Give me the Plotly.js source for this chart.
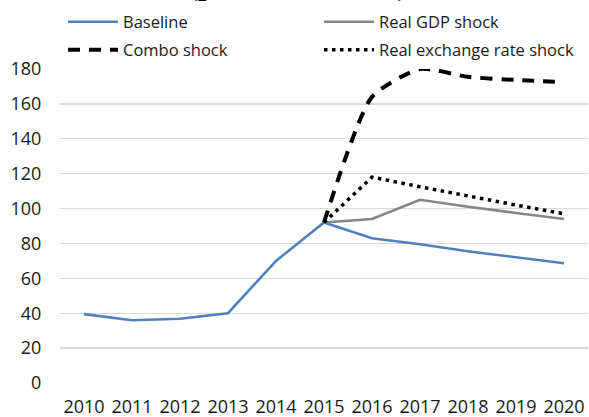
<!DOCTYPE html>
<html>
<head>
<meta charset="utf-8">
<script src="https://cdn.plot.ly/plotly-3.0.1.min.js"></script>
<style>html,body{margin:0;padding:0;background:#fff;}#chart{width:589px;height:417px;}</style>
</head>
<body>
<div id="chart"></div>
<script>
const years = ['2010','2011','2012','2013','2014','2015','2016','2017','2018','2019','2020'];
const baseline = [39.5, 36, 36.8, 40, 70, 92, 83, 79.5, 75.5, 72, 68.6];
const realGdpShock = [null, null, null, null, null, 92, 94, 105, 101, 97.5, 94];
const comboShock = [null, null, null, null, null, 92, 164, 180, 175.5, 173.7, 172.5];
const rerShock = [null, null, null, null, null, 92, 118, 112.5, 107, 102, 97];
const yTicks = [0, 20, 40, 60, 80, 100, 120, 140, 160, 180];
const titleText = '(percent of GDP)';

const txt = '#1a1a1a';
const traces = [
  {x: years, y: baseline, name: 'Baseline', type: 'scatter', mode: 'lines',
   line: {color: '#4f81bd', width: 2.6}, legend: 'legend'},
  {x: years, y: realGdpShock, name: 'Real GDP shock', type: 'scatter', mode: 'lines',
   line: {color: '#868686', width: 2.6}, legend: 'legend2'},
  {x: years, y: comboShock, name: 'Combo shock', type: 'scatter', mode: 'lines',
   line: {color: '#000000', width: 4, dash: '12px,9px', shape: 'spline', smoothing: 0.6}, legend: 'legend3'},
  {x: years, y: rerShock, name: 'Real exchange rate shock', type: 'scatter', mode: 'lines',
   line: {color: '#000000', width: 3.5, dash: '3.5px,4.5px'}, legend: 'legend4'}
];
traces.forEach(t => t.cliponaxis = false);

const legendBase = {
  orientation: 'h', xref: 'container', yref: 'container',
  xanchor: 'left', yanchor: 'middle', itemwidth: 50,
  bgcolor: 'rgba(0,0,0,0)', borderwidth: 0,
  font: {family: 'Open Sans, sans-serif', size: 16.5, color: txt}
};
const mk = (px, py) => Object.assign({}, legendBase, {x: px/589, y: 1 - py/417});

const layout = {
  width: 589, height: 417,
  margin: {l: 60, r: 1, t: 69, b: 34, pad: 0, autoexpand: false},
  paper_bgcolor: '#ffffff', plot_bgcolor: '#ffffff',
  font: {family: 'Open Sans, sans-serif', color: txt},
  showlegend: true,
  legend: mk(63, 22),
  legend2: mk(319, 22),
  legend3: mk(63, 50),
  legend4: mk(319, 50),
  xaxis: {
    type: 'category', range: [-0.5, 10.5], showgrid: false, zeroline: false,
    showline: false, ticks: 'outside', ticklen: 7, tickcolor: 'rgba(0,0,0,0)',
    tickfont: {size: 18, color: txt}, fixedrange: true
  },
  yaxis: {
    range: [0, 180], tickvals: yTicks, ticktext: yTicks.map(String),
    showgrid: true, gridcolor: '#d9d9d9', gridwidth: 1.3, zeroline: false,
    showline: false, ticks: 'outside', ticklen: 14, tickcolor: 'rgba(0,0,0,0)',
    tickfont: {size: 18, color: txt}, fixedrange: true
  },
  annotations: [{
    text: '<b>' + titleText + '</b>', xref: 'paper', yref: 'paper', x: 0.45, y: 1.206,
    xanchor: 'center', yanchor: 'bottom', showarrow: false,
    font: {family: 'Liberation Serif, serif', size: 30, color: '#000'}
  }]
};

Plotly.newPlot('chart', traces, layout, {displayModeBar: false, staticPlot: true});
</script>
</body>
</html>
